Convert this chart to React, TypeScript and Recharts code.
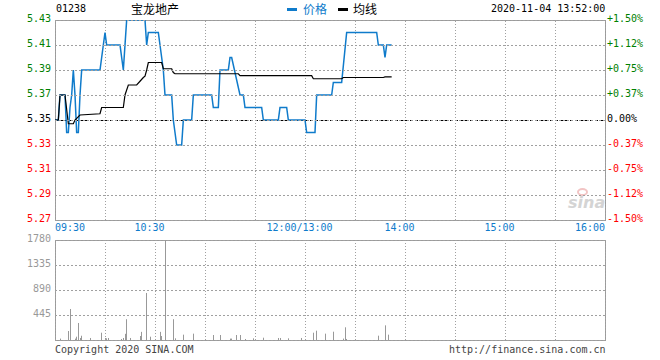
import { LineChart, Line, ComposedChart, Bar, XAxis, YAxis, ReferenceLine, ReferenceArea } from 'recharts'

const MONO = '"DejaVu Sans Mono", "Liberation Mono", monospace'
const CJK = '"Noto Sans CJK SC", "Noto Sans", sans-serif'

const stockCode = '01238'
const stockName = '宝龙地产'
const quoteTime = '2020-11-04 13:52:00'
const prevClose = 5.35

// minutes after 09:30, lunch break removed (150 = 12:00/13:00, 330 = 16:00)
const timeTicks = [0, 30, 60, 90, 120, 150, 180, 210, 240, 270, 300, 330]
const timeLabels = ['09:30', '', '10:30', '', '', '12:00/13:00', '', '14:00', '', '15:00', '', '16:00']

const priceTicks = [5.27, 5.29, 5.31, 5.33, 5.35, 5.37, 5.39, 5.41, 5.43]
const volumeTicks = [0, 445, 890, 1335, 1780]

const priceMinutes = [0, 2, 3, 6, 7, 8, 9, 10, 11, 12, 13, 14, 15, 16, 27, 28, 29, 30, 31, 39, 40, 41, 42, 43, 54, 55, 56, 62, 63, 64, 65, 66, 70, 71, 72, 73, 76, 77, 82, 83, 94, 95, 98, 99, 104, 105, 106, 111, 113, 114, 124, 125, 134, 135, 139, 140, 150, 151, 156, 157, 166, 167, 172, 175, 193, 194, 197, 198, 199, 202]
const priceValues = [5.35, 5.35, 5.37, 5.37, 5.34, 5.34, 5.36, 5.37, 5.39, 5.37, 5.34, 5.34, 5.37, 5.39, 5.39, 5.40, 5.41, 5.42, 5.41, 5.41, 5.40, 5.39, 5.41, 5.43, 5.43, 5.41, 5.42, 5.42, 5.41, 5.40, 5.39, 5.37, 5.37, 5.35, 5.34, 5.33, 5.33, 5.35, 5.35, 5.37, 5.37, 5.36, 5.36, 5.39, 5.39, 5.40, 5.40, 5.37, 5.37, 5.36, 5.36, 5.35, 5.35, 5.36, 5.36, 5.35, 5.35, 5.34, 5.34, 5.37, 5.37, 5.38, 5.38, 5.42, 5.42, 5.41, 5.41, 5.40, 5.41, 5.41]

const avgMinutes = [0, 2, 3, 6, 8, 11, 12, 15, 27, 28, 41, 42, 44, 49, 51, 53, 54, 55, 56, 64, 65, 70, 71, 72, 110, 111, 154, 155, 172, 173, 197, 198, 202]
const avgValues = [5.35, 5.35, 5.37, 5.37, 5.347, 5.347, 5.35, 5.354, 5.355, 5.36, 5.36, 5.37, 5.378, 5.378, 5.381, 5.384, 5.385, 5.39, 5.396, 5.396, 5.391, 5.391, 5.388, 5.387, 5.387, 5.3855, 5.3855, 5.383, 5.383, 5.384, 5.384, 5.3845, 5.3845]

const volumeMinutes = [3, 8, 9, 12, 13, 14, 15, 16, 21, 28, 30, 31, 32, 40, 41, 42, 43, 45, 51, 52, 55, 57, 63, 64, 66, 71, 72, 77, 83, 95, 99, 105, 106, 109, 111, 114, 119, 125, 134, 135, 140, 148, 155, 157, 162, 167, 173, 174, 175, 194, 198, 200]
const volumeValues = [25, 160, 552, 25, 59, 303, 36, 76, 36, 130, 36, 30, 36, 18, 36, 110, 370, 36, 71, 145, 837, 59, 145, 71, 1780, 370, 30, 95, 113, 89, 89, 25, 25, 89, 89, 18, 30, 41, 36, 36, 30, 36, 130, 166, 113, 148, 25, 226, 18, 77, 261, 95]

const priceData = priceMinutes.map((t, i) => ({ t, price: priceValues[i] }))
const avgData = avgMinutes.map((t, i) => ({ t, avg: avgValues[i] }))
const volumeData = volumeMinutes.map((t, i) => ({ t, vol: volumeValues[i] }))

const BLUE = '#0f7bcb'
const GRID = '#a0a0a0'
const BORDER = '#9a9a9a'
// plot area spans x 55..605 in both panels
const PLOT_LEFT = 55
const PLOT_RIGHT = 605

const priceColor = (v: number) => (v > prevClose + 1e-9 ? '#008000' : v < prevClose - 1e-9 ? '#ff0000' : '#000000')

// dotted row drawn from the axis tick position
const GridRow = ({ y }: { y: number }) => {
  const yy = Math.round(y) + 0.5
  return <line x1={PLOT_LEFT} x2={PLOT_RIGHT} y1={yy} y2={yy} stroke={GRID} strokeWidth={1} strokeDasharray="2 2" />
}

const LeftTick = ({ x, y, payload }: any) => (
  <g>
    <GridRow y={y} />
    <text x={x} y={y} dy={2} textAnchor="end" fontFamily={MONO} fontSize={10} fill={priceColor(payload.value)}>
      {payload.value.toFixed(2)}
    </text>
  </g>
)

const RightTick = ({ x, y, payload }: any) => {
  const pct = ((payload.value - prevClose) / prevClose) * 100
  const label = (pct > 0.001 ? '+' : '') + (Math.abs(pct) < 0.001 ? '0.00' : pct.toFixed(2)) + '%'
  return (
    <text x={x} y={y} dy={2} textAnchor="start" fontFamily={MONO} fontSize={10} fill={priceColor(payload.value)}>
      {label}
    </text>
  )
}

const TimeTick = ({ x, y, payload }: any) => {
  const idx = timeTicks.indexOf(payload.value)
  const label = timeLabels[idx]
  if (!label) return null
  const anchor = idx === 0 ? 'start' : idx === timeTicks.length - 1 ? 'end' : 'middle'
  const tx = idx === 0 || idx === timeTicks.length - 1 ? x : x - 5.5
  return (
    <text x={tx} y={y} dy={10.5} textAnchor={anchor} fontFamily={MONO} fontSize={10} fill={BLUE}>
      {label}
    </text>
  )
}

const VolumeTick = ({ x, y, payload }: any) => (
  <g>
    <GridRow y={y} />
    {payload.value !== 0 && (
      <text x={x} y={y} dy={2} textAnchor="end" fontFamily={MONO} fontSize={10} fill="#999999">
        {payload.value}
      </text>
    )}
  </g>
)

const VolumeBar = (props: any) => {
  const { x, y, width, height } = props
  if (!height || height <= 0) return null
  return <rect x={Math.round(x + width / 2)} y={y} width={1} height={height} fill="#999999" />
}

const text = (left: number, top: number, extra: any = {}) => ({
  position: 'absolute' as const,
  left,
  top,
  fontFamily: MONO,
  fontSize: 10,
  lineHeight: '12px',
  whiteSpace: 'nowrap' as const,
  ...extra,
})

export default function App() {
  return (
    <div style={{ position: 'absolute', left: 0, top: 0, width: 660, height: 360, background: '#fff', overflow: 'hidden' }}>
      {/* header */}
      <div style={text(56, 3, { color: '#000' })}>{stockCode}</div>
      <div style={text(131, 2, { fontFamily: CJK, fontSize: 12, lineHeight: '14px', color: '#000' })}>{stockName}</div>
      <div style={{ position: 'absolute', left: 287, top: 8, width: 10, height: 3, background: BLUE }} />
      <div style={text(303, 2, { fontFamily: CJK, fontSize: 12, lineHeight: '14px', color: BLUE })}>价格</div>
      <div style={{ position: 'absolute', left: 338, top: 8, width: 10, height: 3, background: '#000' }} />
      <div style={text(353, 2, { fontFamily: CJK, fontSize: 12, lineHeight: '14px', color: '#000' })}>均线</div>
      <div style={text(491, 3, { color: '#000' })}>{quoteTime}</div>

      {/* sina watermark */}
      <div style={{ position: 'absolute', left: 577, top: 188, width: 11, height: 8, borderRadius: '50%', border: '2px solid #f2c4c4', boxSizing: 'border-box' }} />
      <div style={{ position: 'absolute', left: 568, top: 194, fontFamily: '"DejaVu Sans", sans-serif', fontStyle: 'italic', fontWeight: 'bold', fontSize: 16, lineHeight: '18px', color: '#d4d4d4' }}>
        sina
      </div>

      {/* price panel */}
      <div style={{ position: 'absolute', left: 0, top: 0 }}>
        <LineChart width={660} height={240} margin={{ top: 20, right: 0, bottom: 0, left: 0 }}>
          <XAxis
            type="number"
            dataKey="t"
            domain={[0, 330]}
            ticks={timeTicks}
            interval={0}
            height={20}
            axisLine={false}
            tickLine={false}
            tickSize={0}
            tickMargin={0}
            tick={<TimeTick />}
            allowDataOverflow
          />
          <YAxis
            yAxisId="left"
            orientation="left"
            width={55}
            domain={[5.27, 5.43]}
            ticks={priceTicks}
            interval={0}
            axisLine={false}
            tickLine={false}
            tickSize={0}
            tickMargin={4}
            tick={<LeftTick />}
            allowDataOverflow
          />
          <YAxis
            yAxisId="right"
            orientation="right"
            width={55}
            domain={[5.27, 5.43]}
            ticks={priceTicks}
            interval={0}
            axisLine={false}
            tickLine={false}
            tickSize={0}
            tickMargin={2}
            tick={<RightTick />}
            allowDataOverflow
          />
          {timeTicks.map((t) => (
            <ReferenceLine key={'v' + t} yAxisId="left" x={t} stroke={GRID} strokeDasharray="1 2" shapeRendering="crispEdges" />
          ))}
          <ReferenceLine yAxisId="left" y={prevClose} stroke="#000" strokeDasharray="3 2" shapeRendering="crispEdges" />
          <ReferenceArea yAxisId="left" x1={0} x2={330} y1={5.27} y2={5.43} fill="none" stroke={BORDER} strokeOpacity={1} shapeRendering="crispEdges" />
          <Line
            yAxisId="left"
            data={priceData}
            dataKey="price"
            type="linear"
            stroke={BLUE}
            strokeWidth={1.5}
            dot={false}
            activeDot={false}
            isAnimationActive={false}
          />
          <Line
            yAxisId="left"
            data={avgData}
            dataKey="avg"
            type="linear"
            stroke="#000"
            strokeWidth={1.2}
            dot={false}
            activeDot={false}
            isAnimationActive={false}
          />
        </LineChart>
      </div>

      {/* volume panel */}
      <div style={{ position: 'absolute', left: 0, top: 230 }}>
        <ComposedChart width={660} height={120} data={volumeData} margin={{ top: 10, right: 55, bottom: 0, left: 0 }}>
          <XAxis
            type="number"
            dataKey="t"
            domain={[0, 330]}
            ticks={timeTicks}
            interval={0}
            height={10}
            axisLine={false}
            tickLine={false}
            tick={false}
            allowDataOverflow
          />
          <YAxis
            width={55}
            domain={[0, 1780]}
            ticks={volumeTicks}
            interval={0}
            axisLine={false}
            tickLine={false}
            tickSize={0}
            tickMargin={4}
            tick={<VolumeTick />}
            allowDataOverflow
          />
          {timeTicks.map((t) => (
            <ReferenceLine key={'v' + t} x={t} stroke={GRID} strokeDasharray="1 2" shapeRendering="crispEdges" />
          ))}
          <ReferenceArea x1={0} x2={330} y1={0} y2={1780} fill="none" stroke={BORDER} strokeOpacity={1} shapeRendering="crispEdges" />
          <Bar dataKey="vol" barSize={1} shape={<VolumeBar />} isAnimationActive={false} />
        </ComposedChart>
      </div>

      {/* footer */}
      <div style={text(55, 344, { color: '#444' })}>Copyright 2020 SINA.COM</div>
      <div style={text(449, 344, { color: '#444' })}>http://finance.sina.com.cn</div>
    </div>
  )
}
